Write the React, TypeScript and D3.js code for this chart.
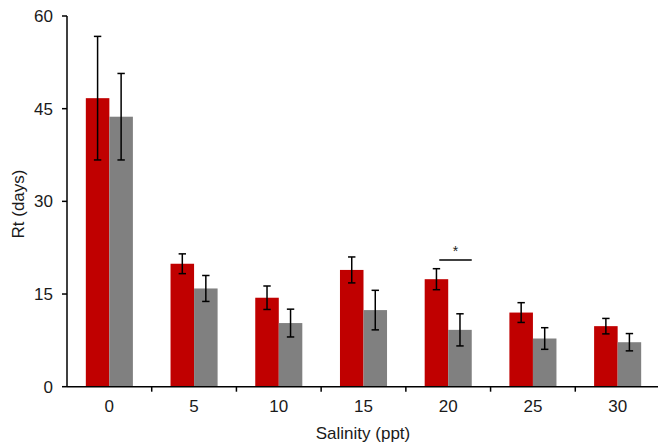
import React from "react";
import * as d3 from "d3";

const categories = ["0", "5", "10", "15", "20", "25", "30"];
const series = ["red", "gray"];
const redValues = [46.7, 19.9, 14.4, 18.9, 17.4, 12.0, 9.8];
const redErrors = [10.0, 1.6, 1.9, 2.1, 1.7, 1.6, 1.25];
const grayValues = [43.7, 15.9, 10.3, 12.4, 9.2, 7.8, 7.2];
const grayErrors = [7.0, 2.1, 2.25, 3.2, 2.6, 1.75, 1.4];
const yTicks = [0, 15, 30, 45, 60];
const sigCategory = "20";
const sigLevel = 20.5;

const W = 658;
const H = 445;
const left = 67;
const right = 660;
const top = 16;
const bottom = 386.7;

export default function App() {
  const x0 = d3.scaleBand<string>().domain(categories).range([left, right]);
  const x1 = d3
    .scaleBand<string>()
    .domain(series)
    .range([0, x0.bandwidth()])
    .paddingOuter(0.8);
  const y = d3.scaleLinear().domain([0, 60]).range([bottom, top]);
  const bw = x1.bandwidth();
  const color: Record<string, string> = { red: "#C00000", gray: "#808080" };
  const font = "Arial, 'Liberation Sans', sans-serif";

  const rows = categories.flatMap((c, i) => [
    { c, s: "red", v: redValues[i], e: redErrors[i] },
    { c, s: "gray", v: grayValues[i], e: grayErrors[i] },
  ]);

  const sigX1 = (x0(sigCategory) ?? 0) + (x1("red") ?? 0) + bw * 0.62;
  const sigX2 = (x0(sigCategory) ?? 0) + (x1("gray") ?? 0) + bw;

  return (
    <svg
      width={W}
      height={H}
      style={{ position: "absolute", left: 0, top: 0, background: "#fff" }}
      fontFamily={font}
    >
      {rows.map((d, i) => {
        const bx = (x0(d.c) ?? 0) + (x1(d.s) ?? 0);
        return (
          <rect
            key={"b" + i}
            x={bx}
            y={y(d.v)}
            width={bw}
            height={y(0) - y(d.v)}
            fill={color[d.s]}
          />
        );
      })}
      {rows.map((d, i) => {
        const cx = (x0(d.c) ?? 0) + (x1(d.s) ?? 0) + bw / 2;
        const y1 = y(d.v + d.e);
        const y2 = y(d.v - d.e);
        return (
          <g key={"e" + i} stroke="#000" strokeWidth={1.5}>
            <line x1={cx} x2={cx} y1={y1} y2={y2} />
            <line x1={cx - 3.7} x2={cx + 3.7} y1={y1} y2={y1} />
            <line x1={cx - 3.7} x2={cx + 3.7} y1={y2} y2={y2} />
          </g>
        );
      })}
      {/* significance marker */}
      <line x1={sigX1} x2={sigX2} y1={y(sigLevel)} y2={y(sigLevel)} stroke="#000" strokeWidth={1.5} />
      <text x={(sigX1 + sigX2) / 2} y={y(sigLevel) - 4} textAnchor="middle" fontSize={14} fill="#222">
        *
      </text>

      {/* y axis */}
      <line x1={left} x2={left} y1={top} y2={bottom} stroke="#000" strokeWidth={1.5} />
      {yTicks.map((t) => (
        <g key={"y" + t}>
          <line x1={left - 5} x2={left} y1={y(t)} y2={y(t)} stroke="#000" strokeWidth={1.5} />
          <text x={53} y={y(t)} dy="0.35em" textAnchor="end" fontSize={17} fill="#1a1a1a">
            {t}
          </text>
        </g>
      ))}
      <text
        transform={`translate(18,204) rotate(-90)`}
        textAnchor="middle"
        dy="0.35em"
        fontSize={17}
        fill="#1a1a1a"
      >
        Rt (days)
      </text>

      {/* x axis */}
      <line x1={left} x2={right} y1={bottom} y2={bottom} stroke="#000" strokeWidth={1.5} />
      {categories.map((c) => (
        <g key={"x" + c}>
          <line
            x1={(x0(c) ?? 0) + x0.bandwidth()}
            x2={(x0(c) ?? 0) + x0.bandwidth()}
            y1={bottom}
            y2={bottom + 5}
            stroke="#000"
            strokeWidth={1.5}
          />
          <text
            x={(x0(c) ?? 0) + x0.bandwidth() / 2}
            y={406.5}
            dy="0.35em"
            textAnchor="middle"
            fontSize={17}
            fill="#1a1a1a"
          >
            {c}
          </text>
        </g>
      ))}
      <text x={363} y={433} dy="0.35em" textAnchor="middle" fontSize={17} fill="#1a1a1a">
        Salinity (ppt)
      </text>
    </svg>
  );
}
